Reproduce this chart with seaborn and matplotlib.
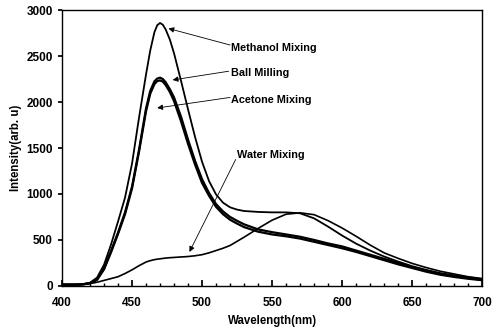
import pandas as pd
import matplotlib
matplotlib.use('Agg')
import matplotlib.pyplot as plt
import seaborn as sns
from matplotlib.ticker import MultipleLocator

# values
wavelength = [400, 410, 415, 420, 425, 430, 435, 440, 445, 450, 455, 460, 463,
              466, 468, 470, 472, 474, 477, 480, 485, 490, 495, 500, 505, 510,
              515, 520, 525, 530, 540, 550, 560, 570, 580, 590, 600, 610, 620,
              630, 640, 650, 660, 670, 680, 690, 700]

methanol = [15, 15, 20, 35, 90, 230, 450, 700, 960, 1330, 1830, 2300, 2560,
            2760, 2835, 2860, 2840, 2790, 2680, 2530, 2230, 1920, 1620, 1350, 1140, 995,
            905, 855, 830, 815, 805, 800, 800, 790, 735, 645, 548, 460, 385,
            320, 265, 215, 175, 140, 115, 95, 75]

ball_milling = [15, 15, 18, 30, 70, 190, 380, 580, 800, 1080, 1480, 1930, 2120,
                2225, 2255, 2265, 2250, 2215, 2140, 2050, 1840, 1590, 1360, 1160, 1010, 890,
                810, 750, 708, 670, 615, 585, 560, 535, 500, 462, 430, 385, 340,
                295, 250, 205, 165, 130, 105, 85, 68]

acetone = [15, 15, 18, 30, 65, 180, 365, 565, 780, 1060, 1460, 1900, 2090,
           2195, 2228, 2235, 2222, 2185, 2110, 2010, 1790, 1545, 1320, 1120, 980, 860,
           780, 720, 678, 640, 590, 560, 540, 515, 480, 445, 410, 370, 325,
           280, 235, 195, 155, 122, 98, 78, 62]

water = [10, 10, 15, 25, 40, 60, 80, 100, 135, 175, 220, 260, 275, 286, 291,
         295, 299, 303, 307, 310, 315, 320, 328, 340, 360, 385, 410, 440, 485,
         530, 625, 715, 780, 795, 775, 710, 630, 540, 445, 360, 300, 245, 200,
         160, 130, 100, 80]

series = {
    'Methanol Mixing': methanol,
    'Ball Milling': ball_milling,
    'Acetone Mixing': acetone,
    'Water Mixing': water,
}
widths = {'Methanol Mixing': 1.3, 'Ball Milling': 1.6,
          'Acetone Mixing': 1.6, 'Water Mixing': 1.2}

# label text position, arrow tip, arrow tail (data coords)
labels = {
    'Methanol Mixing': ((521, 2590), (476, 2800), (520, 2620)),
    'Ball Milling': ((521, 2320), (479, 2240), (519, 2335)),
    'Acetone Mixing': ((521, 2025), (468, 1935), (520, 2050)),
    'Water Mixing': ((525, 1425), (491, 370), (524, 1375)),
}

df = pd.DataFrame([
    {'Wavelength': w, 'Intensity': v, 'Sample': name}
    for name, vals in series.items() for w, v in zip(wavelength, vals)
])

sns.set_theme(style='ticks')
plt.rcParams['font.family'] = ['Liberation Sans', 'DejaVu Sans']
plt.rcParams['font.weight'] = 'bold'
plt.rcParams['text.color'] = 'black'
plt.rcParams['axes.labelcolor'] = 'black'
plt.rcParams['xtick.color'] = 'black'
plt.rcParams['ytick.color'] = 'black'

fig = plt.figure(figsize=(4.92, 3.36), dpi=100)
ax = fig.add_axes([0.126, 0.149, 0.854, 0.821])

for name in series:
    sns.lineplot(data=df[df['Sample'] == name], x='Wavelength', y='Intensity',
                 color='black', lw=widths[name], ax=ax)

for name, (txt, tip, tail) in labels.items():
    ax.text(txt[0], txt[1], name, fontsize=7.8, fontweight='bold',
            va='center', ha='left', color='black')
    ax.annotate('', xy=tip, xytext=tail,
                arrowprops=dict(arrowstyle='-|>', color='black', lw=0.6,
                                mutation_scale=8, shrinkA=0, shrinkB=0))

ax.set_xlim(400, 700)
ax.set_ylim(0, 3000)
ax.xaxis.set_major_locator(MultipleLocator(50))
ax.xaxis.set_minor_locator(MultipleLocator(10))
ax.yaxis.set_major_locator(MultipleLocator(500))
ax.tick_params(axis='x', which='both', direction='in', labelsize=8.5, pad=8)
ax.tick_params(axis='x', which='major', length=4)
ax.tick_params(axis='x', which='minor', length=2)
ax.tick_params(axis='y', direction='out', length=3, labelsize=8.5)
for lab in ax.get_xticklabels() + ax.get_yticklabels():
    lab.set_fontweight('bold')
for sp in ax.spines.values():
    sp.set_visible(True)
    sp.set_linewidth(1.0)
    sp.set_color('black')

ax.set_xlabel('Wavelength(nm)', fontsize=8.3, fontweight='bold', labelpad=4)
ax.set_ylabel('Intensity(arb. u)', fontsize=8.3, fontweight='bold', labelpad=3)

fig.savefig('out.png', dpi=100)
